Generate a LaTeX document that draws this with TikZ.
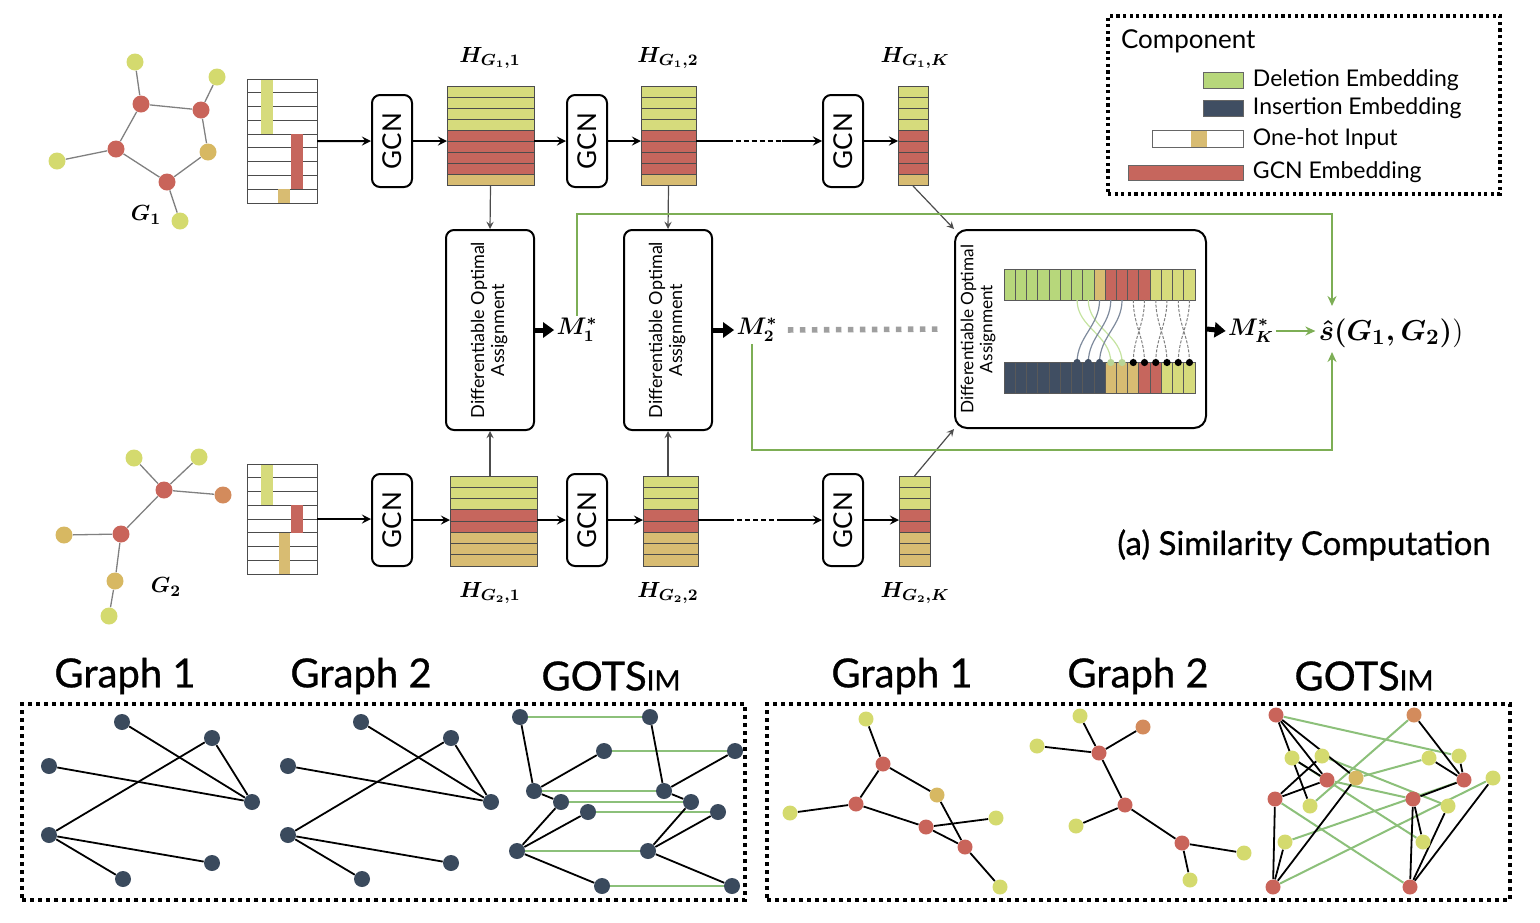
\documentclass[tikz,border=0pt]{standalone}
\usepackage{fontspec}
\setmainfont{Lato}
\newfontfamily\medfont{Lato}[FakeBold=0.7]
\usepackage{amsmath}
\usepackage{graphicx}
\usepackage{tikz}
\usetikzlibrary{calc,positioning,arrows.meta,backgrounds}
\definecolor{nY}{HTML}{D4DA6E}
\definecolor{nR}{HTML}{C9645A}
\definecolor{nT}{HTML}{D7B862}
\definecolor{nO}{HTML}{D38B5C}
\definecolor{eY}{HTML}{D6DB7C}
\definecolor{eR}{HTML}{C6665D}
\definecolor{eT}{HTML}{D8BC72}
\definecolor{delG}{HTML}{B7D77B}
\definecolor{insD}{HTML}{404E62}
\definecolor{darkN}{HTML}{3A4A5D}
\definecolor{conG}{HTML}{7DAE55}
\definecolor{panG}{HTML}{8CC07A}
\definecolor{lgrn}{HTML}{C5E3A0}
\definecolor{slate}{HTML}{7E8A9C}

% one embedding matrix: name, x centre, y top, width, row height, colours
\newcommand{\embstack}[6]{%
  \foreach \c [count=\i] in {#6}
    \node[embrow, fill=\c, minimum width=#4*0.5pt, minimum height=#5*0.5pt]
      (#1-\i) at (#2,{#3+(\i-0.5)*#5}) {};
}

\begin{document}
\begin{tikzpicture}
    [x=0.5pt, y=-0.5pt,
     >=stealth,
     gnode/.style={circle, inner sep=0pt, minimum size=8.5pt},
     pnode/.style={circle, inner sep=0pt, minimum size=7.5pt},
     dnode/.style={circle, inner sep=0pt, minimum size=8pt, fill=darkN},
     gedge/.style={gray, line width=0.65pt},
     pedge/.style={black, line width=0.9pt},
     matchline/.style={panG, line width=1pt},
     gcnbox/.style={draw, rounded corners=4pt, line width=1pt, minimum width=20pt,
                    minimum height=46pt, inner sep=0pt, font=\fontsize{13}{13}\selectfont},
     doabox/.style={draw, rounded corners=4pt, line width=1pt, minimum width=44pt,
                    minimum height=100pt, inner sep=0pt, font=\fontsize{9}{10}\selectfont},
     embrow/.style={draw=black!70, line width=0.5pt, inner sep=0pt, outer sep=0pt},
     ohrow/.style={draw=black!70, fill=white, line width=0.5pt, inner sep=0pt, outer sep=0pt,
                   minimum width=35pt},
     barcell/.style={draw=black!65, line width=0.4pt, inner sep=0pt, outer sep=0pt,
                     minimum width=5.62pt, minimum height=15.5pt},
     swatch/.style={draw=black!60, line width=0.5pt, inner sep=0pt},
     flowarr/.style={->, line width=1pt},
     dashseg/.style={line width=1pt, dash pattern=on 2.5pt off 1.5pt},
     feedarr/.style={->, gray!60!black, line width=0.6pt},
     thickarr/.style={-{Triangle[length=5.5pt,width=7.5pt]}, line width=2.5pt},
     grn/.style={-{Stealth[length=5pt,width=4.5pt]}, conG, line width=1pt},
     lbl/.style={font=\fontsize{11}{11}\selectfont\boldmath},
     mlbl/.style={inner sep=1pt, font=\fontsize{12}{12}\selectfont\boldmath},
     legtxt/.style={font=\fontsize{11.5}{11.5}\selectfont},
     ttl/.style={font=\medfont\fontsize{20}{20}\selectfont},
     dotframe/.style={draw, line width=1.8pt, dash pattern=on 2pt off 2pt, inner sep=0pt}
    ]
\useasboundingbox (0,0) rectangle (1540,922);

%input graph G1
\node[gnode, fill=nY] (a1) at (135,62) {};
\node[gnode, fill=nY] (a2) at (217,77) {};
\node[gnode, fill=nR] (a3) at (141,104) {};
\node[gnode, fill=nR] (a4) at (201,110) {};
\node[gnode, fill=nR] (a5) at (116,149) {};
\node[gnode, fill=nT] (a6) at (208,152) {};
\node[gnode, fill=nR] (a7) at (167,182) {};
\node[gnode, fill=nY] (a8) at (57,161) {};
\node[gnode, fill=nY] (a9) at (180,221) {};
\foreach \u/\v in {a1/a3, a2/a4, a3/a4, a3/a5, a4/a6, a5/a7, a6/a7, a5/a8, a7/a9}
    \draw[gedge] (\u) -- (\v);
\node[lbl] (G1) at (146,215) {$G_1$};

%input graph G2
\node[gnode, fill=nY] (b1) at (134,458) {};
\node[gnode, fill=nY] (b2) at (199,457) {};
\node[gnode, fill=nR] (b3) at (164,490) {};
\node[gnode, fill=nO] (b4) at (223,495) {};
\node[gnode, fill=nR] (b5) at (121,534) {};
\node[gnode, fill=nT] (b6) at (64,535) {};
\node[gnode, fill=nT] (b7) at (115,581) {};
\node[gnode, fill=nY] (b8) at (109,616) {};
\foreach \u/\v in {b1/b3, b2/b3, b3/b4, b3/b5, b5/b6, b5/b7, b7/b8}
    \draw[gedge] (\u) -- (\v);
\node[lbl] (G2) at (166,587) {$G_2$};

%one-hot inputs
\foreach \i in {1,...,9}
    \node[ohrow, minimum height=6.89pt] (X1-\i) at (282,{79+(\i-0.5)*13.78}) {};
\fill[eY] (261,79.5) rectangle (273,134.1);
\fill[eR] (291,134.1) rectangle (303,189.2);
\fill[eT] (278,189.2) rectangle (290,202.5);
\foreach \i in {1,...,8}
    \node[ohrow, minimum height=6.875pt] (X2-\i) at (282,{464+(\i-0.5)*13.75}) {};
\fill[eY] (261,464.5) rectangle (273,505.25);
\fill[eR] (291,505.25) rectangle (303,532.75);
\fill[eT] (279,532.75) rectangle (290,573.5);

%GCN layers
\node[gcnbox] (C11) at (392,141) {\rotatebox{90}{GCN}};
\node[gcnbox] (C12) at (587,141) {\rotatebox{90}{GCN}};
\node[gcnbox] (C1K) at (843,141) {\rotatebox{90}{GCN}};
\node[gcnbox] (C21) at (392,520) {\rotatebox{90}{GCN}};
\node[gcnbox] (C22) at (587,520) {\rotatebox{90}{GCN}};
\node[gcnbox] (C2K) at (843,520) {\rotatebox{90}{GCN}};

%node embeddings
\embstack{H11}{490.5}{86}{87}{11.11}{eY,eY,eY,eY,eR,eR,eR,eR,eT}
\embstack{H12}{668.5}{86}{55}{11.11}{eY,eY,eY,eY,eR,eR,eR,eR,eT}
\embstack{H1K}{913}{86}{30}{11.11}{eY,eY,eY,eY,eR,eR,eR,eR,eT}
\embstack{H21}{493.5}{476}{87}{11.25}{eY,eY,eY,eR,eR,eT,eT,eT}
\embstack{H22}{670.5}{476}{55}{11.25}{eY,eY,eY,eR,eR,eT,eT,eT}
\embstack{H2K}{914.5}{476}{31}{11.25}{eY,eY,eY,eR,eR,eT,eT,eT}
\node[lbl] (LH11) at (490,58) {$H_{G_1,1}$};
\node[lbl] (LH12) at (668,58) {$H_{G_1,2}$};
\node[lbl] (LH1K) at (915,58) {$H_{G_1,K}$};
\node[lbl] (LH21) at (490,593) {$H_{G_2,1}$};
\node[lbl] (LH22) at (668,593) {$H_{G_2,2}$};
\node[lbl] (LH2K) at (915,593) {$H_{G_2,K}$};

%forward pass G1
\draw[flowarr] (X1-5.east) -- (C11.west);
\draw[flowarr] (C11.east) -- (C11.east -| H11-5.west);
\draw[flowarr] (H11-5.east |- C12.west) -- (C12.west);
\draw[flowarr] (C12.east) -- (C12.east -| H12-5.west);
\coordinate (s1) at (C1K.west -| H12-5.east);
\draw[line width=1pt] (s1) -- ($(s1)!0.25!(C1K.west)$);
\draw[dashseg] ($(s1)!0.25!(C1K.west)$) -- ($(s1)!0.68!(C1K.west)$);
\draw[flowarr] ($(s1)!0.68!(C1K.west)$) -- (C1K.west);
\draw[flowarr] (C1K.east) -- (C1K.east -| H1K-5.west);

%forward pass G2
\draw[flowarr] (X2-4.south east) -- (X2-4.south east -| C21.west);
\draw[flowarr] (C21.east) -- (C21.east -| H21-1.west);
\draw[flowarr] (H21-1.east |- C22.west) -- (C22.west);
\draw[flowarr] (C22.east) -- (C22.east -| H22-1.west);
\coordinate (s2) at (C2K.west -| H22-1.east);
\draw[line width=1pt] (s2) -- ($(s2)!0.25!(C2K.west)$);
\draw[dashseg] ($(s2)!0.25!(C2K.west)$) -- ($(s2)!0.68!(C2K.west)$);
\draw[flowarr] ($(s2)!0.68!(C2K.west)$) -- (C2K.west);
\draw[flowarr] (C2K.east) -- (C2K.east -| H2K-1.west);

%assignment blocks
\node[doabox] (D1) at (490,330)
    {\rotatebox{90}{\begin{tabular}{@{}c@{}}Differentiable Optimal\\Assignment\end{tabular}}};
\node[doabox] (D2) at (668,330)
    {\rotatebox{90}{\begin{tabular}{@{}c@{}}Differentiable Optimal\\Assignment\end{tabular}}};
\node[draw, rounded corners=6pt, line width=1pt, minimum width=125.5pt, minimum height=99pt]
    (DK) at (1080.5,329) {};
\node[inner sep=0pt, font=\fontsize{8.6}{9.6}\selectfont] (DKt) at (979,329)
    {\rotatebox{90}{\begin{tabular}{@{}c@{}}Differentiable Optimal\\Assignment\end{tabular}}};

\draw[feedarr] (H11-9.south) -- (D1.north);
\draw[feedarr] (D1.south |- H21-1.north) -- (D1.south);
\draw[feedarr] (H12-9.south) -- (D2.north);
\draw[feedarr] (D2.south |- H22-1.north) -- (D2.south);
\draw[feedarr] (H1K-9.south) -- (DK.north west);
\draw[feedarr] (H2K-1.north) -- (DK.south west);

%assignment between the two sets of rows
\foreach \c [count=\i] in {delG,delG,delG,delG,delG,delG,delG,delG,eT,eR,eR,eR,eR,eY,eY,eY,eY}
    \node[barcell, fill=\c] (t\i) at ({1004+(\i-0.5)*11.24},284.5) {};
\foreach \c [count=\i] in {insD,insD,insD,insD,insD,insD,insD,insD,insD,eT,eT,eT,eR,eR,eY,eY,eY}
    \node[barcell, fill=\c] (b\i) at ({1004+(\i-0.5)*11.24},378) {};
\foreach \s/\e in {7/10, 8/11}
    \draw[lgrn, line width=0.6pt] (t\s.south) to[out=-90, in=90] (b\e.north);
\foreach \s/\e in {9/7, 10/8, 11/9}
    \draw[slate, line width=0.6pt] (t\s.south) to[out=-90, in=90] (b\e.north);
\foreach \s/\e in {12/13, 13/12, 14/15, 15/14, 16/17, 17/16}
    \draw[gray, line width=0.5pt, dash pattern=on 1.5pt off 0.8pt] (t\s.south) to[out=-90, in=90] (b\e.north);
\foreach \e in {7,8,9}
    \fill[insD] (b\e.north) circle (1.8pt);
\foreach \e in {10,11}
    \fill[lgrn!70!black!20!lgrn] (b\e.north) circle (1.8pt);
\foreach \e in {12,...,17}
    \fill[black] (b\e.north) circle (1.8pt);

%assignment outputs
\node[mlbl] (M1) at (577,330) {$M_1^*$};
\node[mlbl] (M2) at (757,330) {$M_2^*$};
\node[mlbl] (MK) at (1251,331) {$M_K^*$};
\node[inner sep=0pt, font=\fontsize{15}{15}\selectfont] (S) at (1391,333)
    {{\boldmath$\hat{s}(G_1,G_2)$}$)$};
\draw[thickarr] (D1.east) -- (M1.west);
\draw[thickarr] (D2.east) -- (M2.west);
\draw[thickarr] (DK.east) -- (MK.west);
\draw[gray!75, line width=2.8pt, dash pattern=on 2.8pt off 3.2pt, shorten <=4pt, shorten >=6.5pt]
    (M2.east) -- (DK.west);
\coordinate (Sup) at (1332,306);
\coordinate (Sdn) at (1332,352);
\draw[grn, shorten >=1.5pt] (MK.east) -- (MK.east -| S.west);
\draw[grn] (M1.north) -- (M1.north |- 0,214) -| (Sup);
\draw[grn] ([xshift=-2.5pt]M2.south) -- ([xshift=-2.5pt]M2.south |- 0,450) -| (Sdn);

%legend
\node[dotframe, line width=1.6pt, dash pattern=on 1.6pt off 1.7pt, minimum width=196pt,
      minimum height=89pt] (leg) at (1304,105) {};
\node[anchor=west, font=\fontsize{13}{13}\selectfont] (legT) at (1114,41) {Component};
\node[swatch, fill=delG, minimum width=20pt, minimum height=8pt] (swD) at (1223,80) {};
\node[swatch, fill=insD, minimum width=20pt, minimum height=8pt] (swI) at (1223,108) {};
\node[swatch, fill=white, minimum width=45.5pt, minimum height=8.5pt] (swO) at (1197.5,138.5) {};
\node[fill=eT, inner sep=0pt, minimum width=8pt, minimum height=8pt] (swOt) at (1199,138.5) {};
\node[swatch, fill=eR, minimum width=57.5pt, minimum height=7.5pt] (swG) at (1185.5,172.5) {};
\node[legtxt, right=1.2pt of swD] (lD) {Deletion Embedding};
\node[legtxt, right=1.2pt of swI] (lI) {Insertion Embedding};
\node[legtxt, right=1.2pt of swO] (lO) {One-hot Input};
\node[legtxt, right=1.2pt of swG] (lG) {GCN Embedding};

\node[font=\medfont\fontsize{16.5}{16.5}\selectfont] (cap) at (1304,545) {(a) Similarity Computation};

%example panels
\node[ttl] (T1) at (125,676) {Graph 1};
\node[ttl] (T2) at (361,676) {Graph 2};
\node[ttl] (T3) at (611,676) {GOTS{\fontsize{14}{14}\selectfont IM}};
\node[ttl] (T4) at (902,676) {Graph 1};
\node[ttl] (T5) at (1138,676) {Graph 2};
\node[ttl] (T6) at (1364,676) {GOTS{\fontsize{14}{14}\selectfont IM}};
\node[dotframe, minimum width=361.5pt, minimum height=98pt] (P1) at (383.5,802) {};
\node[dotframe, minimum width=371.5pt, minimum height=98pt] (P2) at (1138.5,802) {};

%left panel: the two plain graphs
\foreach \g/\dx in {1/0, 2/239} {
    \node[dnode] (g\g a) at (122+\dx,722) {};
    \node[dnode] (g\g b) at (212+\dx,738) {};
    \node[dnode] (g\g c) at (49+\dx,766) {};
    \node[dnode] (g\g d) at (252+\dx,802) {};
    \node[dnode] (g\g e) at (49+\dx,835) {};
    \node[dnode] (g\g f) at (212+\dx,863) {};
    \node[dnode] (g\g g) at (123+\dx,879) {};
    \foreach \u/\v in {a/d, b/d, b/e, c/d, e/f, e/g}
        \draw[pedge] (g\g\u) -- (g\g\v);
}
%left panel: matched copies
\foreach \n/\x/\y in {p1/520/717, p2/650/717, q1/604/751, q2/735/751, r1/534/791, r2/664/791,
                      s1/561/802, s2/691/802, t1/588/812, t2/718/812, u1/517/851, u2/648/851,
                      v1/602/886, v2/732/886}
    \node[dnode] (\n) at (\x,\y) {};
\begin{scope}[on background layer]
\foreach \n in {p,q,r,s,t,u,v}
    \draw[matchline, line width=1.2pt] (\n1) -- (\n2);
\foreach \k in {1,2}
    \foreach \u/\v in {p/r, q/r, r/s, s/u, t/u, v/u}
        \draw[pedge] (\u\k) -- (\v\k);
\end{scope}

%right panel: graph 1
\node[pnode, fill=nY] (k1) at (866,719) {};
\node[pnode, fill=nR] (k2) at (883,764) {};
\node[pnode, fill=nT] (k3) at (937,795) {};
\node[pnode, fill=nR] (k4) at (856,804) {};
\node[pnode, fill=nY] (k5) at (790,813) {};
\node[pnode, fill=nY] (k6) at (996,818) {};
\node[pnode, fill=nR] (k7) at (926,827) {};
\node[pnode, fill=nR] (k8) at (965,847) {};
\node[pnode, fill=nY] (k9) at (1000,887) {};
%right panel: graph 2
\node[pnode, fill=nY] (m1) at (1080,716) {};
\node[pnode, fill=nO] (m2) at (1143,727) {};
\node[pnode, fill=nY] (m3) at (1037,746) {};
\node[pnode, fill=nR] (m4) at (1099,753) {};
\node[pnode, fill=nR] (m5) at (1125,805) {};
\node[pnode, fill=nY] (m6) at (1076,826) {};
\node[pnode, fill=nR] (m7) at (1182,843) {};
\node[pnode, fill=nY] (m8) at (1244,853) {};
\node[pnode, fill=nY] (m9) at (1190,880) {};
%right panel: matched copies
\node[pnode, fill=nR] (L1) at (1276,715) {};
\node[pnode, fill=nY] (L2) at (1292,758) {};
\node[pnode, fill=nY] (L3) at (1322,756) {};
\node[pnode, fill=nR] (L4) at (1327,780) {};
\node[pnode, fill=nT] (L5) at (1356,778) {};
\node[pnode, fill=nR] (L6) at (1275,799) {};
\node[pnode, fill=nY] (L7) at (1310,806) {};
\node[pnode, fill=nY] (L8) at (1285,842) {};
\node[pnode, fill=nR] (L9) at (1273,887) {};
\node[pnode, fill=nO] (R1) at (1414,715) {};
\node[pnode, fill=nY] (R2) at (1429,758) {};
\node[pnode, fill=nY] (R3) at (1459,756) {};
\node[pnode, fill=nR] (R4) at (1464,780) {};
\node[pnode, fill=nY] (R5) at (1493,778) {};
\node[pnode, fill=nR] (R6) at (1413,799) {};
\node[pnode, fill=nY] (R7) at (1448,806) {};
\node[pnode, fill=nY] (R8) at (1423,842) {};
\node[pnode, fill=nR] (R9) at (1410,887) {};
\begin{scope}[on background layer]
\foreach \u/\v in {k1/k2, k2/k3, k2/k4, k4/k5, k4/k7, k7/k6, k7/k8, k3/k8, k8/k9,
                   m1/m4, m2/m4, m3/m4, m4/m5, m5/m6, m5/m7, m7/m8, m7/m9}
    \draw[pedge] (\u) -- (\v);
\foreach \u/\v in {L1/R3, R1/L7, L3/R7, L5/R2, L4/R6, L2/R8, L6/R9, L8/R4, L9/R5}
    \draw[matchline] (\u) -- (\v);
\foreach \u/\v in {L1/L4, L1/L5, L1/L7, L4/L2, L4/L6, L6/L3, L6/L9, L9/L8, L9/L5,
                   R1/R4, R2/R4, R3/R4, R4/R6, R6/R8, R6/R9, R9/R7, R9/R5}
    \draw[pedge] (\u) -- (\v);
\end{scope}

\end{tikzpicture}
\end{document}
